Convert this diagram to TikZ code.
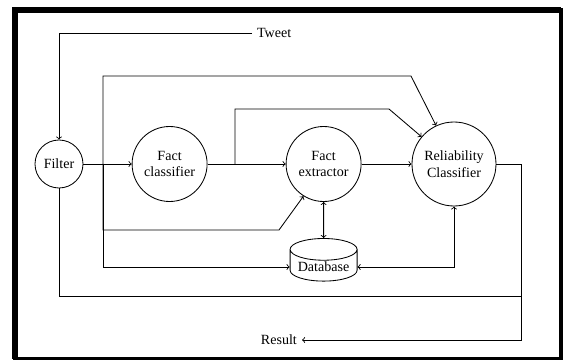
\documentclass[tikz,border=0pt]{standalone}
\usepackage{fontspec}
\setmainfont{Liberation Serif}
\usetikzlibrary{shapes.geometric}
\tikzset{
	stage/.style={circle, draw, align=center, inner sep=1pt},
	store/.style={cylinder, draw, shape border rotate=90, aspect=0.4, minimum width=1.675cm, minimum height=1.025cm, inner sep=1pt},
}
\begin{document}
\begin{tikzpicture}[semithick]
	\useasboundingbox (0,0) rectangle (14.1,9.025);
	\draw [line width=2.4pt] (0.375,0.0625) rectangle (14.025,8.775);
	\draw [line width=4.3pt] (0.375,0.0625) -- (0.375,8.775) -- (14.025,8.775);
	\node [stage, minimum size=1.2cm] (filter) at (1.475,4.925) {Filter};
	\node [stage, minimum size=1.875cm] (factcls) at (4.24,4.925) {Fact\\classifier};
	\node [stage, minimum size=1.875cm] (factext) at (8.09,4.925) {Fact\\extractor};
	\node [stage, minimum size=2.1cm] (relcls) at (11.35,4.925) {Reliability\\Classifier};
	\node [store] (db) at (8.09,2.35) {Database};
	\node [anchor=west] (tweet) at (6.3,8.2) {Tweet};
	\node [anchor=east] (result) at (7.55,0.525) {Result};
	\coordinate (split) at (2.575,4.925);
	\coordinate (fork) at (5.875,4.925);
	\coordinate (out) at (13.025,4.925);
	\draw [->] (tweet.west) -| (filter.north);
	\draw [->] (filter) -- (factcls);
	\draw [->] (split) -- (2.575,7.125) -- (10.275,7.125) -- (relcls.115);
	\draw [->] (split) -- (2.575,3.275) -- (6.975,3.275) -- (factext.238);
	\draw [->] (split) |- (db.west);
	\draw [->] (factcls) -- (factext);
	\draw [->] (fork) -- (5.875,6.3) -- (9.725,6.3) -- (relcls.140);
	\draw [->] (factext) -- (relcls);
	\draw [<->] (factext.south) -- (db.north);
	\draw [<->] (db.east) -| (relcls.south);
	\draw (filter.south) |- (out |- 0,1.625);
	\draw [->] (relcls.east) -- (out) |- (result.east);
\end{tikzpicture}
\end{document}
